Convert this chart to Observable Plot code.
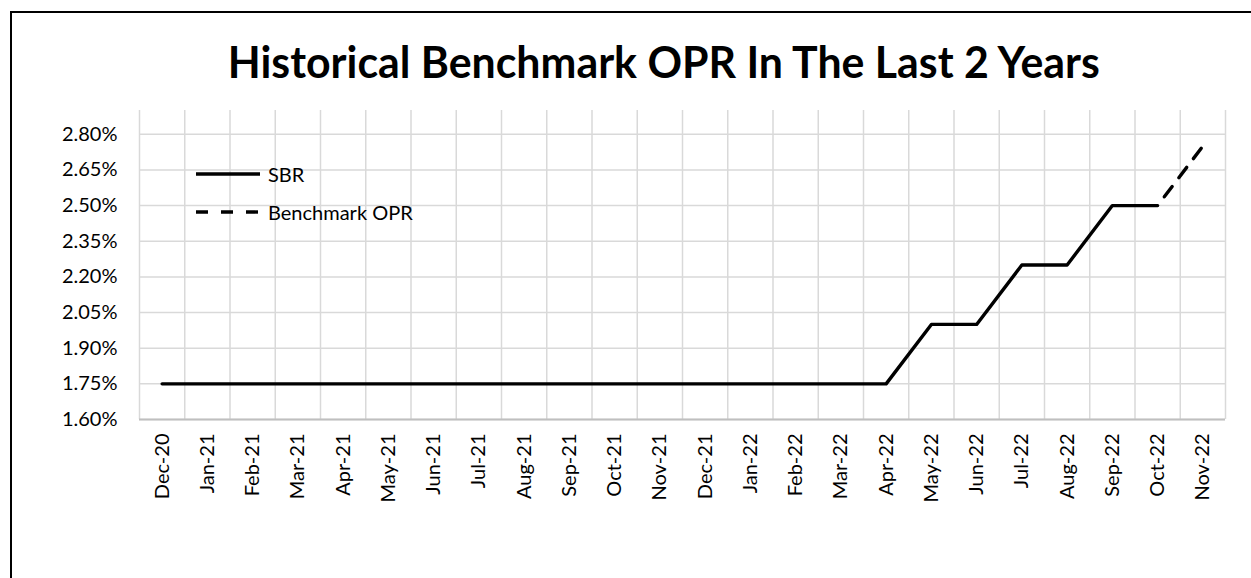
<!DOCTYPE html>
<html><head><meta charset="utf-8">
<script src="https://cdn.jsdelivr.net/npm/d3@7"></script>
<script src="https://cdn.jsdelivr.net/npm/@observablehq/plot@0.6"></script>
<style>
html,body{margin:0;padding:0;background:#fff;overflow:hidden;}
#wrap{position:relative;width:1251px;height:578px;overflow:hidden;font-family:Lato,sans-serif;color:#000;}
#frame{position:absolute;left:10px;top:11px;width:1300px;height:700px;border:2px solid #000;box-sizing:border-box;}
#title{position:absolute;top:40px;left:0;width:1328px;text-align:center;font-size:43px;font-weight:bold;line-height:1;white-space:nowrap;}
#title span{display:inline-block;transform-origin:center;}
.leg{position:absolute;left:196px;display:flex;align-items:center;font-size:20px;line-height:1;white-space:nowrap;}
.leg svg{margin-right:8px;}
#chart{position:absolute;left:0;top:0;}
</style></head>
<body>
<div id="wrap">
  <div id="frame"></div>
  <div id="chart"></div>
  <div id="title"><span>Historical Benchmark OPR In The Last 2 Years</span></div>
  <div class="leg" id="leg1" style="top:164px"></div>
  <div class="leg" id="leg2" style="top:202px"></div>
</div>
<script>
const categories = ["Dec-20","Jan-21","Feb-21","Mar-21","Apr-21","May-21","Jun-21","Jul-21","Aug-21","Sep-21","Oct-21","Nov-21","Dec-21","Jan-22","Feb-22","Mar-22","Apr-22","May-22","Jun-22","Jul-22","Aug-22","Sep-22","Oct-22","Nov-22"];
const sbr = [1.75,1.75,1.75,1.75,1.75,1.75,1.75,1.75,1.75,1.75,1.75,1.75,1.75,1.75,1.75,1.75,1.75,2.00,2.00,2.25,2.25,2.50,2.50,null];
const opr = [null,null,null,null,null,null,null,null,null,null,null,null,null,null,null,null,null,null,null,null,null,null,2.50,2.75];
const yTicks = [1.60,1.75,1.90,2.05,2.20,2.35,2.50,2.65,2.80];
const seriesNames = ["SBR","Benchmark OPR"];

const sbrData = sbr.map((v,i)=>({i, v}));
const oprData = opr.map((v,i)=>({i, v}));
const n = categories.length;

const chart = Plot.plot({
  width:1251, height:578,
  marginLeft:139, marginRight:26, marginTop:110, marginBottom:159,
  style:{fontFamily:"Lato, sans-serif", fontSize:"20px", color:"#000", background:"transparent"},
  x:{domain:[-0.5, n-0.5]},
  y:{domain:[1.6, 2.9]},
  marks:[
    Plot.ruleX(d3.range(n+1).map(i=>i-0.5), {stroke:"#d9d9d9", strokeWidth:1.5}),
    Plot.ruleY(yTicks, {stroke:"#d9d9d9", strokeWidth:1.5}),
    Plot.ruleY([yTicks[0]], {stroke:"#bfbfbf", strokeWidth:2}),
    Plot.axisY({ticks:yTicks, tickSize:0, tickPadding:22, label:null, tickFormat:d=>d.toFixed(2)+"%"}),
    Plot.axisX({ticks:d3.range(n), tickSize:0, tickRotate:-90, tickPadding:14, label:null, tickFormat:i=>categories[i]}),
    Plot.line(sbrData, {x:"i", y:"v", stroke:"#000", strokeWidth:3.4}),
    Plot.line(oprData, {x:"i", y:"v", stroke:"#000", strokeWidth:3.4, strokeDasharray:"13,11", strokeDashoffset:13})
  ]
});
document.getElementById("chart").appendChild(chart);

function swatch(dash){
  return `<svg width="64" height="6"><line x1="0" y1="3" x2="64" y2="3" stroke="#000" stroke-width="3.4" ${dash?'stroke-dasharray="12,13"':''}/></svg>`;
}
document.getElementById("leg1").innerHTML = swatch(false) + `<span>${seriesNames[0]}</span>`;
document.getElementById("leg2").innerHTML = swatch(true) + `<span>${seriesNames[1]}</span>`;

const t = document.querySelector("#title span");
const w = t.getBoundingClientRect().width;
t.style.transform = `scaleX(${872/w})`;
</script>
</body></html>
